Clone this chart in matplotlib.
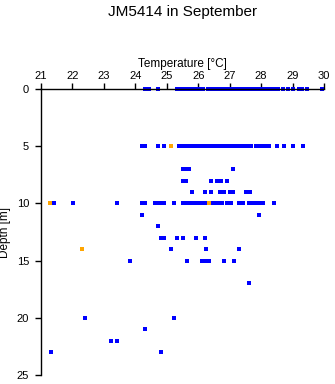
import matplotlib
matplotlib.use("Agg")
import matplotlib.pyplot as plt

plt.rcParams['font.family'] = ['Liberation Sans', 'DejaVu Sans']

# Blue observations: depth -> temperatures
blue_d0 = [24.32, 24.45, 24.72, 25.32, 25.42, 25.5, 25.6, 25.7, 25.8, 25.9, 26.0, 26.1, 26.15,
           26.3, 26.4, 26.5, 26.6, 26.7, 26.78, 26.85, 26.95, 27.0, 27.1, 27.2, 27.3, 27.4,
           27.5, 27.6, 27.7, 27.8, 27.9, 27.97, 28.1, 28.2, 28.3, 28.4, 28.55, 28.7, 28.85,
           29.0, 29.2, 29.3, 29.45, 29.95]
blue_d5 = [24.2, 24.32, 24.72, 24.92, 25.38, 25.45, 25.55, 25.62, 25.7, 25.78, 25.85, 25.95,
           26.02, 26.1, 26.2, 26.28, 26.35, 26.45, 26.52, 26.6, 26.7, 26.78, 26.85, 26.95,
           27.02, 27.1, 27.2, 27.3, 27.4, 27.5, 27.6, 27.68, 27.85, 27.95, 28.05, 28.15,
           28.25, 28.5, 28.72, 29.0, 29.33]
blue_d7 = [25.5, 25.6, 25.72, 27.12]
blue_d8 = [25.5, 25.62, 26.42, 26.6, 26.72, 26.92]
blue_d9 = [25.8, 26.2, 26.4, 26.68, 26.82, 27.0, 27.12, 27.52, 27.65]
blue_d10 = [21.42, 22.02, 23.42, 24.2, 24.3, 24.62, 24.7, 24.78, 24.92, 25.23, 25.5, 25.58,
            25.65, 25.72, 25.8, 25.88, 25.95, 26.02, 26.1, 26.2, 26.43, 26.5, 26.58, 26.65,
            26.75, 26.92, 27.05, 27.3, 27.42, 27.6, 27.68, 27.75, 27.85, 27.95, 28.05, 28.42]
blue_d11 = [24.2, 27.92]
blue_d12 = [24.72]
blue_d13 = [24.81, 24.92, 25.32, 25.52, 25.93, 26.22]
blue_d14 = [25.13, 26.24, 27.31]
blue_d15 = [23.83, 25.63, 26.12, 26.22, 26.33, 26.83, 27.13]
blue_d17 = [27.63]
blue_d20 = [22.41, 25.22]
blue_d21 = [24.32]
blue_d22 = [23.23, 23.42]
blue_d23 = [21.33, 24.81]

blue_depths = [0, 5, 7, 8, 9, 10, 11, 12, 13, 14, 15, 17, 20, 21, 22, 23]
blue_temps = [blue_d0, blue_d5, blue_d7, blue_d8, blue_d9, blue_d10, blue_d11, blue_d12,
              blue_d13, blue_d14, blue_d15, blue_d17, blue_d20, blue_d21, blue_d22, blue_d23]

# Orange observations
orange_temps = [25.13, 21.30, 26.33, 22.31]
orange_depths = [5, 10, 10, 14]

xticks = [21, 22, 23, 24, 25, 26, 27, 28, 29, 30]
yticks = [0, 5, 10, 15, 20, 25]

fig = plt.figure(figsize=(3.35, 3.84), dpi=100)
ax = fig.add_axes([41/335, 1-375/384, 283/335, 286/384])

bx, by = [], []
for d, ts in zip(blue_depths, blue_temps):
    for t in ts:
        bx.append(t)
        by.append(d)
ax.plot(bx, by, linestyle='none', marker='s', markersize=2.2, color='#0000ff',
        markeredgewidth=0, clip_on=False)
ax.plot(orange_temps, orange_depths, linestyle='none', marker='s', markersize=2.2,
        color='#ffa500', markeredgewidth=0, clip_on=False)

ax.set_xlim(21, 30)
ax.set_ylim(25, 0)
ax.xaxis.tick_top()
ax.xaxis.set_label_position('top')
ax.set_xticks(xticks)
ax.set_yticks(yticks)
ax.spines['right'].set_visible(False)
ax.spines['bottom'].set_visible(False)
for s in ['top', 'left']:
    ax.spines[s].set_linewidth(1.0)
ax.tick_params(axis='both', direction='out', length=4.5, width=1.0, labelsize=8, pad=1.5)
ax.tick_params(axis='y', pad=4)
ax.set_xlabel('Temperature [°C]', fontsize=8.5, labelpad=3)
ax.set_ylabel('Depth [m]', fontsize=8.5, labelpad=4)
fig.text(182.5/335, 1-12/384, 'JM5414 in September', ha='center', va='center', fontsize=11)

fig.savefig('out.png', dpi=100)
